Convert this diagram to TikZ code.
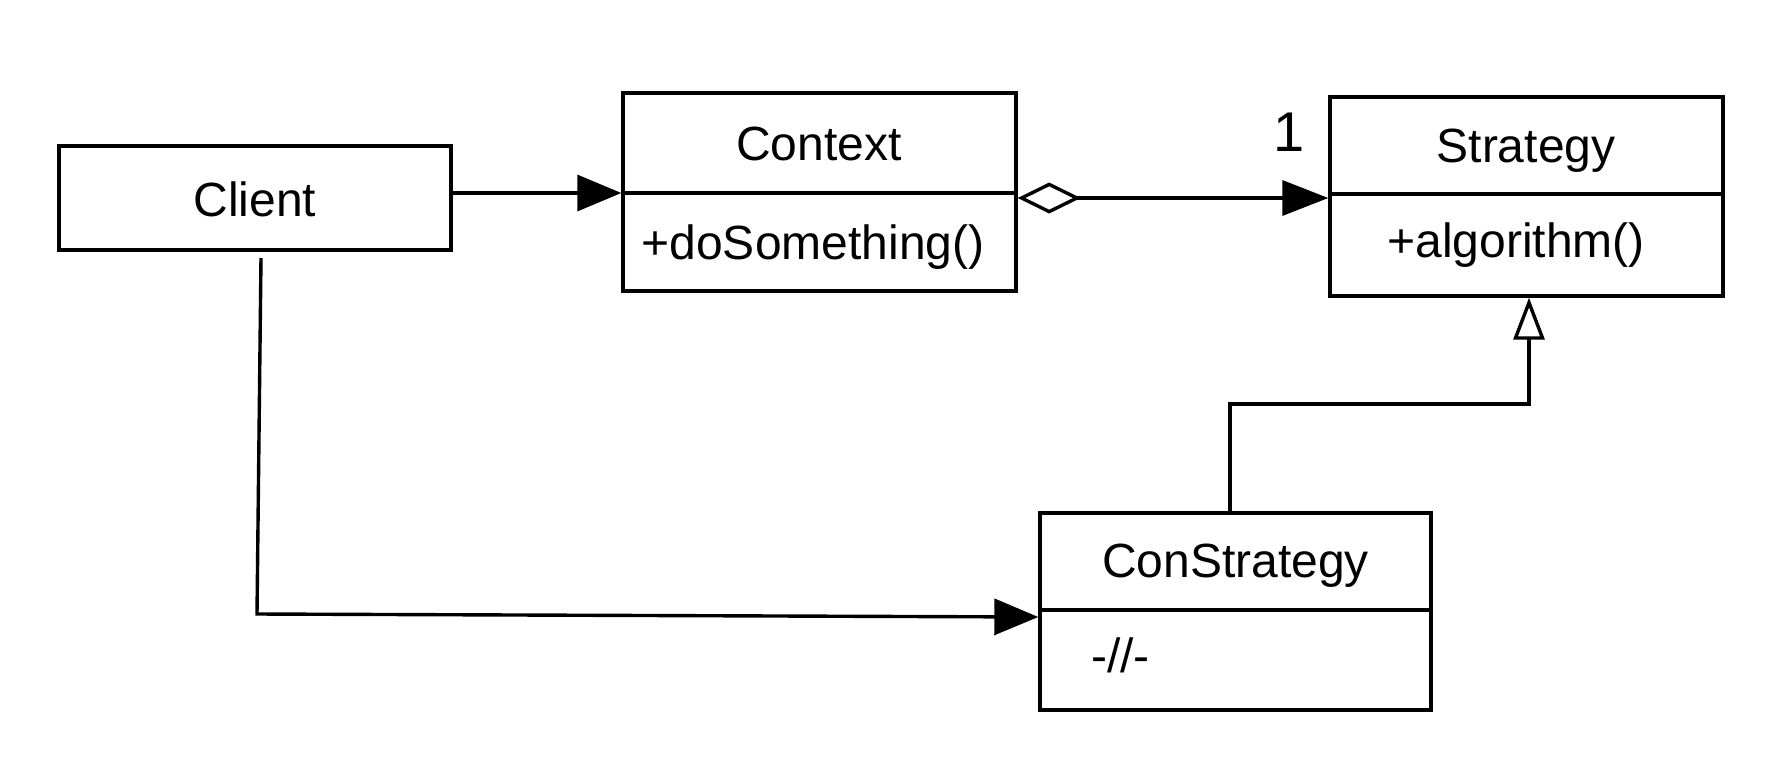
\documentclass[tikz,border=0pt]{standalone}
\usepackage{fontspec}
\setmainfont{Liberation Sans}
\usetikzlibrary{arrows.meta}
\tikzset{
  umlbox/.style={draw, line width=3.4pt, inner sep=0pt, rectangle},
  lbl/.style={inner sep=0pt, anchor=base, font=\fontsize{48}{58}\selectfont},
  conn/.style={line width=3.4pt},
  solidtip/.style={-{Triangle[length=44pt,width=36pt]}},
}
\begin{document}
\begin{tikzpicture}[x=1pt,y=-1pt]
\useasboundingbox[fill=white] (0,0) rectangle (1782,782);

% boxes
\node[umlbox, minimum width=392pt, minimum height=104pt] (client) at (255,198) {};
\node[umlbox, minimum width=393pt, minimum height=198pt] (context) at (819.5,192) {};
\node[umlbox, minimum width=393pt, minimum height=199pt] (strategy) at (1526.5,196.5) {};
\node[umlbox, minimum width=391pt, minimum height=197pt] (constr) at (1235.5,611.5) {};

% dividers
\draw[conn] (context.west |- 0,193) -- (context.east |- 0,193);
\draw[conn] (strategy.west |- 0,194) -- (strategy.east |- 0,194);
\draw[conn] (constr.west |- 0,610) -- (constr.east |- 0,610);

% texts
\node[lbl] (tclient) at (255,216) {Client};
\node[lbl] (tcontext) at (819,160) {Context};
\node[lbl] (tdo) at (813,259) {+doSomething()};
\node[lbl] (tstrat) at (1526,162) {Strategy};
\node[lbl] (talg) at (1516,257) {+algorithm()};
\node[lbl] (tcon) at (1235.5,577) {ConStrategy};
\node[lbl, anchor=base west] (tdash) at (1091,672) {-//-};
\node[lbl, font=\fontsize{56}{60}\selectfont] (one) at (1288.6,151) {1};

% connectors
\draw[conn, solidtip] (client.east |- 0,193) -- (context.west |- 0,193);
\draw[conn, {Diamond[open,length=63pt,width=31pt]}-{Triangle[length=46pt,width=35pt]}]
  (context.east |- 0,198) -- (strategy.west |- 0,198);
\coordinate (g1) at (1230,404);
\coordinate (g2) at (1529,404);
\draw[conn, -{Triangle[open,length=42pt,width=31pt]}]
  (constr.north -| g1) -- (g1) -- (g2) -- (strategy.south -| g2);
\coordinate (c1) at (261,258);
\coordinate (c2) at (257,614);
\draw[conn, solidtip] (c1) -- (c2) -- (constr.west |- 0,617);
\end{tikzpicture}
\end{document}
